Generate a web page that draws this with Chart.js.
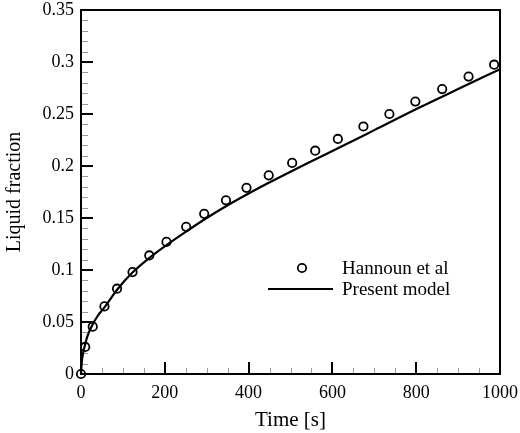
<!DOCTYPE html>
<html>
<head>
<meta charset="utf-8">
<script src="https://cdn.jsdelivr.net/npm/chart.js@4.4.1/dist/chart.umd.min.js"></script>
<style>
  html, body { margin: 0; padding: 0; background: #ffffff; }
  #wrap { width: 520px; height: 433px; }
</style>
</head>
<body>
<div id="wrap"><canvas id="c" width="520" height="433"></canvas></div>
<script>
// ---- data ----
const hannounTime = [0, 10, 28, 56, 86, 123, 163, 204, 251, 294, 346, 395, 448, 504, 559, 613, 674, 736, 798, 862, 925, 986];
const hannounFraction = [0, 0.026, 0.0455, 0.065, 0.082, 0.098, 0.114, 0.127, 0.1415, 0.154, 0.167, 0.179, 0.191, 0.203, 0.2147, 0.226, 0.238, 0.250, 0.262, 0.274, 0.286, 0.2974];

const modelTime = [0, 2, 5, 9, 15, 25, 40, 56, 87, 124, 164, 204, 251, 300, 350, 400, 448, 500, 550, 618, 700, 809, 900, 1000];
const modelFraction = [0, 0.012, 0.020, 0.027, 0.036, 0.0455, 0.056, 0.064, 0.0815, 0.098, 0.112, 0.124, 0.137, 0.150, 0.1622, 0.1735, 0.1838, 0.1945, 0.2045, 0.218, 0.2345, 0.2565, 0.274, 0.293];

const xTickLabels = ['0', '200', '400', '600', '800', '1000'];
const yTickLabels = ['0', '0.05', '0.1', '0.15', '0.2', '0.25', '0.3', '0.35'];
const seriesNames = ['Hannoun et al', 'Present model'];
const axisTitles = { x: 'Time [s]', y: 'Liquid fraction' };

const SERIF = '"Liberation Serif", "Times New Roman", serif';

const toPoints = (xs, ys) => xs.map((x, i) => ({ x: x, y: ys[i] }));

// frame, inward ticks and legend drawn through the chart's own scales
const framePlugin = {
  id: 'frameTicksLegend',
  beforeDatasetsDraw(chart) {
    const { ctx, chartArea: a, scales } = chart;
    const xs = scales.x, ys = scales.y;
    ctx.save();
    // minor ticks
    ctx.strokeStyle = '#9a9a9a';
    ctx.lineWidth = 1;
    ctx.beginPath();
    for (let v = 50; v < 1000; v += 50) {
      if (v % 200 === 0) continue;
      const px = Math.round(xs.getPixelForValue(v)) + 0.5;
      ctx.moveTo(px, a.bottom);
      ctx.lineTo(px, a.bottom - 6);
    }
    for (let k = 1; k < 35; k++) {
      if (k % 5 === 0) continue;
      const py = Math.round(ys.getPixelForValue(k / 100)) + 0.5;
      ctx.moveTo(a.left, py);
      ctx.lineTo(a.left + 7, py);
    }
    ctx.stroke();
    // major ticks
    ctx.strokeStyle = '#000';
    ctx.lineWidth = 2;
    ctx.beginPath();
    xs.ticks.forEach(t => {
      const px = Math.round(xs.getPixelForValue(t.value));
      ctx.moveTo(px, a.bottom);
      ctx.lineTo(px, a.bottom - 12);
    });
    ys.ticks.forEach(t => {
      const py = Math.round(ys.getPixelForValue(t.value));
      ctx.moveTo(a.left, py);
      ctx.lineTo(a.left + 12, py);
    });
    ctx.stroke();
    // frame
    ctx.lineWidth = 2;
    ctx.strokeRect(a.left, a.top, a.right - a.left, a.bottom - a.top);
    ctx.restore();
  },
  afterDraw(chart) {
    const { ctx, chartArea: a } = chart;
    const d0 = chart.data.datasets[0], d1 = chart.data.datasets[1];
    const lx = a.left + 187, ly = a.top + 258;
    ctx.save();
    // marker entry
    ctx.strokeStyle = d0.borderColor;
    ctx.lineWidth = d0.borderWidth;
    ctx.beginPath();
    ctx.arc(lx + 34, ly, d0.pointRadius, 0, Math.PI * 2);
    ctx.stroke();
    // line entry
    ctx.strokeStyle = d1.borderColor;
    ctx.lineWidth = d1.borderWidth;
    ctx.beginPath();
    ctx.moveTo(lx, ly + 21);
    ctx.lineTo(lx + 65, ly + 21);
    ctx.stroke();
    ctx.fillStyle = '#000';
    ctx.font = '19px ' + SERIF;
    ctx.textBaseline = 'middle';
    ctx.textAlign = 'left';
    ctx.fillText(d0.label, lx + 74, ly + 1);
    ctx.fillText(d1.label, lx + 74, ly + 22);
    ctx.restore();
  }
};

new Chart(document.getElementById('c'), {
  type: 'scatter',
  data: {
    datasets: [
      {
        label: seriesNames[0],
        data: toPoints(hannounTime, hannounFraction),
        showLine: false,
        pointStyle: 'circle',
        pointRadius: 4.2,
        pointBorderWidth: 1.8,
        borderWidth: 1.8,
        borderColor: '#000',
        pointBorderColor: '#000',
        pointBackgroundColor: 'rgba(255,255,255,0)',
        clip: false,
        order: 1
      },
      {
        label: seriesNames[1],
        data: toPoints(modelTime, modelFraction),
        showLine: true,
        pointRadius: 0,
        borderColor: '#000',
        borderWidth: 2.2,
        cubicInterpolationMode: 'monotone',
        fill: false,
        clip: false,
        order: 2
      }
    ]
  },
  options: {
    responsive: false,
    animation: false,
    devicePixelRatio: 1,
    layout: { padding: { top: 10, right: 20, left: 0, bottom: 0 } },
    plugins: { legend: { display: false }, tooltip: { enabled: false } },
    scales: {
      x: {
        type: 'linear',
        min: 0, max: 1000,
        grid: { display: false, drawTicks: false },
        border: { display: false },
        ticks: {
          stepSize: 200,
          padding: 8,
          color: '#000',
          font: { family: SERIF, size: 18 },
          maxRotation: 0,
          callback: (v, i) => xTickLabels[i]
        },
        title: {
          display: true,
          text: axisTitles.x,
          color: '#000',
          font: { family: SERIF, size: 21 },
          padding: 0
        },
        afterFit: s => { s.height = 59; s.paddingLeft = 0; s.paddingRight = 0; }
      },
      y: {
        type: 'linear',
        min: 0, max: 0.35,
        grid: { display: false, drawTicks: false },
        border: { display: false },
        ticks: {
          stepSize: 0.05,
          padding: 7,
          color: '#000',
          font: { family: SERIF, size: 18 },
          callback: (v, i) => yTickLabels[i]
        },
        title: {
          display: true,
          text: axisTitles.y,
          color: '#000',
          font: { family: SERIF, size: 20 },
          padding: { top: 3, bottom: 0 }
        },
        afterFit: s => { s.width = 81; s.paddingTop = 0; s.paddingBottom = 0; }
      }
    }
  },
  plugins: [framePlugin]
});
</script>
</body>
</html>
